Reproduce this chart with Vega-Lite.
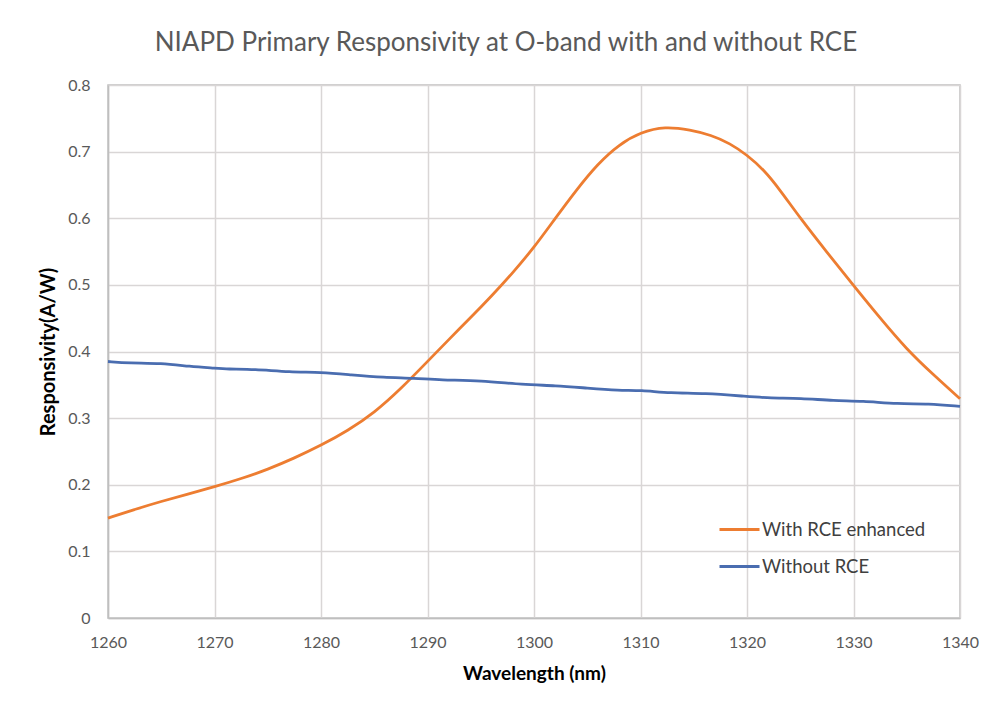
{
  "$schema": "https://vega.github.io/schema/vega-lite/v6.json",
  "width": 852,
  "height": 533,
  "autosize": {"type": "none"},
  "padding": {"left": 108, "top": 85, "right": 29, "bottom": 87},
  "background": "white",
  "title": {
    "text": "NIAPD Primary Responsivity at O-band with and without RCE",
    "font": "Lato",
    "fontSize": 26,
    "fontWeight": "normal",
    "color": "#595959",
    "offset": 21,
    "dx": -28
  },
  "data": {
    "values": [
      {"wl": 1260, "r": 0.150, "s": "With RCE enhanced"},
      {"wl": 1262.5, "r": 0.163, "s": "With RCE enhanced"},
      {"wl": 1265, "r": 0.175, "s": "With RCE enhanced"},
      {"wl": 1267.5, "r": 0.186, "s": "With RCE enhanced"},
      {"wl": 1270, "r": 0.197, "s": "With RCE enhanced"},
      {"wl": 1272.5, "r": 0.209, "s": "With RCE enhanced"},
      {"wl": 1275, "r": 0.223, "s": "With RCE enhanced"},
      {"wl": 1277.5, "r": 0.240, "s": "With RCE enhanced"},
      {"wl": 1280, "r": 0.259, "s": "With RCE enhanced"},
      {"wl": 1282.5, "r": 0.281, "s": "With RCE enhanced"},
      {"wl": 1285, "r": 0.308, "s": "With RCE enhanced"},
      {"wl": 1287.5, "r": 0.344, "s": "With RCE enhanced"},
      {"wl": 1290, "r": 0.385, "s": "With RCE enhanced"},
      {"wl": 1292, "r": 0.418, "s": "With RCE enhanced"},
      {"wl": 1294, "r": 0.450, "s": "With RCE enhanced"},
      {"wl": 1296, "r": 0.483, "s": "With RCE enhanced"},
      {"wl": 1298, "r": 0.518, "s": "With RCE enhanced"},
      {"wl": 1300, "r": 0.556, "s": "With RCE enhanced"},
      {"wl": 1302, "r": 0.600, "s": "With RCE enhanced"},
      {"wl": 1304, "r": 0.643, "s": "With RCE enhanced"},
      {"wl": 1306, "r": 0.682, "s": "With RCE enhanced"},
      {"wl": 1308, "r": 0.711, "s": "With RCE enhanced"},
      {"wl": 1310, "r": 0.729, "s": "With RCE enhanced"},
      {"wl": 1312.3, "r": 0.738, "s": "With RCE enhanced"},
      {"wl": 1314.7, "r": 0.7325, "s": "With RCE enhanced"},
      {"wl": 1316.6, "r": 0.725, "s": "With RCE enhanced"},
      {"wl": 1318.4, "r": 0.7125, "s": "With RCE enhanced"},
      {"wl": 1320, "r": 0.695, "s": "With RCE enhanced"},
      {"wl": 1321.6, "r": 0.6725, "s": "With RCE enhanced"},
      {"wl": 1323.1, "r": 0.6425, "s": "With RCE enhanced"},
      {"wl": 1325, "r": 0.600, "s": "With RCE enhanced"},
      {"wl": 1327.5, "r": 0.549, "s": "With RCE enhanced"},
      {"wl": 1330, "r": 0.499, "s": "With RCE enhanced"},
      {"wl": 1332.5, "r": 0.450, "s": "With RCE enhanced"},
      {"wl": 1335, "r": 0.403, "s": "With RCE enhanced"},
      {"wl": 1337.5, "r": 0.365, "s": "With RCE enhanced"},
      {"wl": 1340, "r": 0.329, "s": "With RCE enhanced"},
      {"wl": 1260, "r": 0.385, "s": "Without RCE"},
      {"wl": 1262, "r": 0.3825, "s": "Without RCE"},
      {"wl": 1265, "r": 0.3825, "s": "Without RCE"},
      {"wl": 1267.7, "r": 0.3775, "s": "Without RCE"},
      {"wl": 1270, "r": 0.375, "s": "Without RCE"},
      {"wl": 1271.2, "r": 0.3735, "s": "Without RCE"},
      {"wl": 1273.7, "r": 0.3735, "s": "Without RCE"},
      {"wl": 1277.1, "r": 0.369, "s": "Without RCE"},
      {"wl": 1280, "r": 0.369, "s": "Without RCE"},
      {"wl": 1282.8, "r": 0.365, "s": "Without RCE"},
      {"wl": 1285.9, "r": 0.361, "s": "Without RCE"},
      {"wl": 1288.8, "r": 0.360, "s": "Without RCE"},
      {"wl": 1291.2, "r": 0.357, "s": "Without RCE"},
      {"wl": 1295, "r": 0.3565, "s": "Without RCE"},
      {"wl": 1299, "r": 0.350, "s": "Without RCE"},
      {"wl": 1302, "r": 0.349, "s": "Without RCE"},
      {"wl": 1305, "r": 0.345, "s": "Without RCE"},
      {"wl": 1308, "r": 0.3415, "s": "Without RCE"},
      {"wl": 1310, "r": 0.342, "s": "Without RCE"},
      {"wl": 1312.8, "r": 0.3375, "s": "Without RCE"},
      {"wl": 1316, "r": 0.3375, "s": "Without RCE"},
      {"wl": 1320, "r": 0.3325, "s": "Without RCE"},
      {"wl": 1322.2, "r": 0.330, "s": "Without RCE"},
      {"wl": 1325, "r": 0.330, "s": "Without RCE"},
      {"wl": 1328.2, "r": 0.326, "s": "Without RCE"},
      {"wl": 1330.8, "r": 0.326, "s": "Without RCE"},
      {"wl": 1334.2, "r": 0.321, "s": "Without RCE"},
      {"wl": 1337, "r": 0.322, "s": "Without RCE"},
      {"wl": 1340, "r": 0.3175, "s": "Without RCE"}
    ]
  },
  "mark": {"type": "line", "strokeWidth": 2.8, "interpolate": "basis"},
  "encoding": {
    "x": {
      "field": "wl",
      "type": "quantitative",
      "scale": {"domain": [1260, 1340], "nice": false, "zero": false},
      "axis": {
        "title": "Wavelength (nm)",
        "values": [1260, 1270, 1280, 1290, 1300, 1310, 1320, 1330, 1340],
        "format": "d",
        "labelFlush": false,
        "labelOverlap": false,
        "labelFont": "Lato",
        "labelFontSize": 16,
        "labelColor": "#595959",
        "labelPadding": 16,
        "ticks": false,
        "domainColor": "#bfbfbf",
        "domainWidth": 1.5,
        "gridColor": "#d9d6d6",
        "gridWidth": 1.5,
        "titleFont": "Lato",
        "titleFontSize": 19,
        "titleFontWeight": "bold",
        "titleColor": "#000000",
        "titlePadding": 14
      }
    },
    "y": {
      "field": "r",
      "type": "quantitative",
      "scale": {"domain": [0, 0.8], "nice": false},
      "axis": {
        "title": "Responsivity(A/W)",
        "values": [0, 0.1, 0.2, 0.3, 0.4, 0.5, 0.6, 0.7, 0.8],
        "format": ".1~f",
        "labelFlush": false,
        "labelOverlap": false,
        "labelFont": "Lato",
        "labelFontSize": 16,
        "labelColor": "#595959",
        "labelPadding": 18,
        "ticks": false,
        "domainColor": "#bfbfbf",
        "domainWidth": 1.5,
        "gridColor": "#d9d6d6",
        "gridWidth": 1.5,
        "titleFont": "Lato",
        "titleFontSize": 20,
        "titleFontWeight": "bold",
        "titleColor": "#000000",
        "titlePadding": 9
      }
    },
    "color": {
      "field": "s",
      "type": "nominal",
      "scale": {"domain": ["With RCE enhanced", "Without RCE"], "range": ["#ED7D31", "#4A6DB0"]},
      "legend": {
        "title": null,
        "orient": "none",
        "legendX": 610,
        "legendY": 423,
        "symbolType": "stroke",
        "symbolSize": 1600,
        "symbolStrokeWidth": 3,
        "labelFont": "Lato",
        "labelFontSize": 18.5,
        "labelColor": "#404040",
        "labelOffset": 1,
        "labelLimit": 400,
        "rowPadding": 6
      }
    }
  },
  "config": {
    "view": {"stroke": "#bfbfbf", "strokeWidth": 1.5}
  }
}
